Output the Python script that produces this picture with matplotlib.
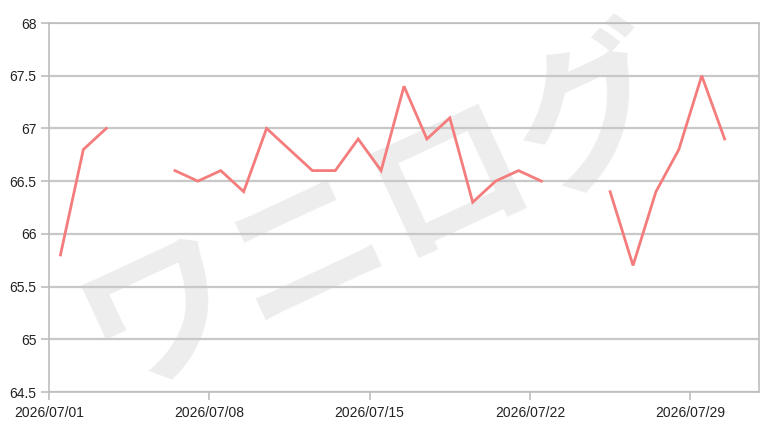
import matplotlib
matplotlib.use("Agg")
import matplotlib.pyplot as plt
import numpy as np
import datetime as dt

plt.rcParams['font.family'] = ['Liberation Sans', 'DejaVu Sans']

dates = [dt.datetime(2026, 7, d, 12) for d in range(1, 31)]
values = [65.8, 66.8, 67.0, np.nan, np.nan,
          66.6, 66.5, 66.6, 66.4, 67.0,
          66.8, 66.6, 66.6, 66.9, 66.6,
          67.4, 66.9, 67.1, 66.3, 66.5,
          66.6, 66.5, np.nan, np.nan, 66.4,
          65.7, 66.4, 66.8, 67.5, 66.9]
yticks = [64.5, 65, 65.5, 66, 66.5, 67, 67.5, 68]
ytick_labels = ["64.5", "65", "65.5", "66", "66.5", "67", "67.5", "68"]
xtick_dates = [dt.datetime(2026, 7, d) for d in (1, 8, 15, 22, 29)]
xtick_labels = ["2026/07/01", "2026/07/08", "2026/07/15", "2026/07/22", "2026/07/29"]
watermark = "ワニログ"

fig = plt.figure(figsize=(7.73, 4.29), dpi=100)
fig.patch.set_facecolor('white')

# watermark behind the plot
fig.text(0.49, 0.50, watermark, fontsize=114, color='#ededed', rotation=25,
         ha='center', va='center', fontweight='bold',
         family=['Noto Sans CJK JP', 'DejaVu Sans'], zorder=-5)

ax = fig.add_axes([49/773, 37/429, 710/773, 369/429])
ax.set_zorder(1)
ax.patch.set_alpha(0)
ax.plot(dates, values, color='#f47c7c', lw=2.0, solid_joinstyle='miter', zorder=3)

ax.set_xlim(dt.datetime(2026, 7, 1), dt.datetime(2026, 8, 1))
ax.set_ylim(64.5, 68)
ax.set_yticks(yticks)
ax.set_yticklabels(ytick_labels)
ax.set_xticks(xtick_dates)
ax.set_xticklabels(xtick_labels)
ax.grid(axis='y', color='#c8c8c8', lw=1.6, zorder=1)
for s in ax.spines.values():
    s.set_color('#bdbdbd')
    s.set_linewidth(1.2)
ax.tick_params(axis='both', colors='#bdbdbd', labelcolor='#222222', labelsize=10)
ax.tick_params(axis='y', length=6, width=1.2, pad=3)
ax.tick_params(axis='x', length=6, width=1.2, pad=4)

fig.savefig('out.png', dpi=100, facecolor='white')
